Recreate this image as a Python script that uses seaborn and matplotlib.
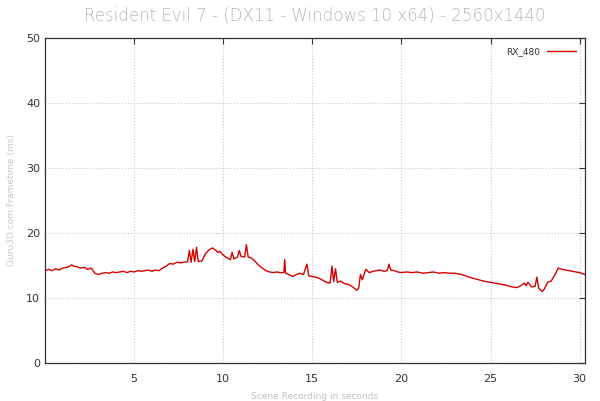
import matplotlib
matplotlib.use('Agg')
import matplotlib.pyplot as plt
import seaborn as sns
import pandas as pd

# frametime trace (seconds, ms)
times = [0.0, 0.2, 0.4, 0.6, 0.8, 1.0, 1.2, 1.4, 1.5, 1.6, 1.8, 2.0, 2.2, 2.4, 2.6,
         2.7, 2.8, 3.0, 3.2, 3.4, 3.6, 3.8, 4.0, 4.2, 4.4, 4.6, 4.8, 5.0, 5.2, 5.4,
         5.6, 5.8, 6.0, 6.2, 6.4, 6.5, 6.6, 6.8, 7.0, 7.2, 7.4, 7.6, 7.8, 8.0, 8.1,
         8.2, 8.3, 8.4, 8.5, 8.6, 8.8, 9.0, 9.2, 9.4, 9.6, 9.7, 9.8, 10.0, 10.2, 10.4,
         10.5, 10.6, 10.8, 10.9, 11.0, 11.2, 11.3, 11.4, 11.6, 11.8, 12.0, 12.2, 12.4, 12.6, 12.8,
         13.0, 13.2, 13.4, 13.45, 13.5, 13.7, 13.9, 14.1, 14.3, 14.5, 14.7, 14.8, 15.0, 15.2, 15.4,
         15.6, 15.8, 16.0, 16.1, 16.2, 16.3, 16.4, 16.6, 16.8, 17.0, 17.2, 17.4, 17.5, 17.6, 17.7,
         17.8, 18.0, 18.2, 18.4, 18.6, 18.8, 19.0, 19.2, 19.3, 19.4, 19.6, 19.8, 20.0, 20.3, 20.6,
         20.9, 21.2, 21.5, 21.8, 22.1, 22.4, 22.7, 23.0, 23.4, 23.8, 24.2, 24.6, 25.0, 25.4, 25.8,
         26.2, 26.5, 26.7, 26.9, 27.0, 27.1, 27.3, 27.5, 27.6, 27.7, 27.9, 28.0, 28.2, 28.4, 28.6,
         28.8, 29.0, 29.2, 29.4, 29.6, 29.8, 30.0, 30.3]
frametime = [14.2, 14.4, 14.2, 14.5, 14.3, 14.6, 14.7, 14.9, 15.1, 14.9, 14.8, 14.6, 14.7, 14.4, 14.6,
             14.2, 13.8, 13.6, 13.8, 13.9, 13.8, 14.0, 13.9, 14.0, 14.1, 13.9, 14.1, 14.0, 14.2, 14.1,
             14.2, 14.3, 14.1, 14.3, 14.2, 14.4, 14.6, 14.9, 15.3, 15.2, 15.5, 15.4, 15.5, 15.6, 17.3,
             15.5, 17.5, 15.6, 17.8, 15.6, 15.7, 16.8, 17.4, 17.7, 17.3, 17.0, 17.2, 16.6, 16.2, 15.9,
             17.0, 16.0, 16.3, 17.3, 16.4, 16.3, 18.2, 16.3, 16.1, 15.6, 15.0, 14.6, 14.2, 14.0, 13.9,
             14.0, 13.9, 13.9, 15.9, 13.8, 13.6, 13.3, 13.6, 13.8, 13.6, 15.2, 13.4, 13.3, 13.2, 13.0,
             12.7, 12.4, 12.3, 14.9, 12.5, 14.5, 12.4, 12.6, 12.2, 12.1, 11.8, 11.4, 11.2, 11.5, 13.6,
             12.8, 14.4, 13.9, 14.1, 14.2, 14.3, 14.1, 14.2, 15.2, 14.3, 14.2, 14.0, 13.9, 14.0, 13.9,
             14.0, 13.8, 13.9, 14.0, 13.8, 13.9, 13.8, 13.8, 13.6, 13.2, 12.9, 12.6, 12.4, 12.2, 12.0,
             11.7, 11.6, 11.9, 12.3, 11.9, 12.4, 11.7, 11.8, 13.2, 11.5, 11.0, 11.3, 12.4, 12.6, 13.5,
             14.6, 14.4, 14.3, 14.2, 14.1, 14.0, 13.9, 13.6]

df = pd.DataFrame({'time': times, 'frametime': frametime})

sns.set_style('white')
fig = plt.figure(figsize=(6, 4.01), dpi=100)
ax = fig.add_axes([0.075, 0.095, 0.9, 0.81])

sns.lineplot(data=df, x='time', y='frametime', color='#d40000', linewidth=1.0,
             label='RX_480', ax=ax)

ax.set_xlim(0, 30.3)
ax.set_ylim(0, 50)
ax.set_xticks([5, 10, 15, 20, 25, 30])
ax.set_yticks([0, 10, 20, 30, 40, 50])
ax.tick_params(direction='in', length=4, top=True, right=True, labelsize=8, colors='#333333')
ax.tick_params(axis='x', pad=8)
ax.grid(True, linestyle=':', color='#c8c8c8', linewidth=0.8)
for s in ax.spines.values():
    s.set_color('#333333')
    s.set_linewidth(0.9)

ax.set_title('Resident Evil 7 - (DX11 - Windows 10 x64) - 2560x1440',
             color='#b5b5b5', fontsize=12, fontweight='light', pad=12)
ax.set_xlabel('Scene Recording in seconds', color='#c0c0c0', fontsize=6.5, labelpad=6)
ax.set_ylabel('Guru3D.com Frametime (ms)', color='#c8c8c8', fontsize=6.5, labelpad=7)

leg = ax.legend(loc='upper right', frameon=False, fontsize=6.5, handlelength=3.2,
                markerfirst=False, borderaxespad=0.6)
for txt in leg.get_texts():
    txt.set_color('#333333')

fig.savefig('out.png', dpi=100)
